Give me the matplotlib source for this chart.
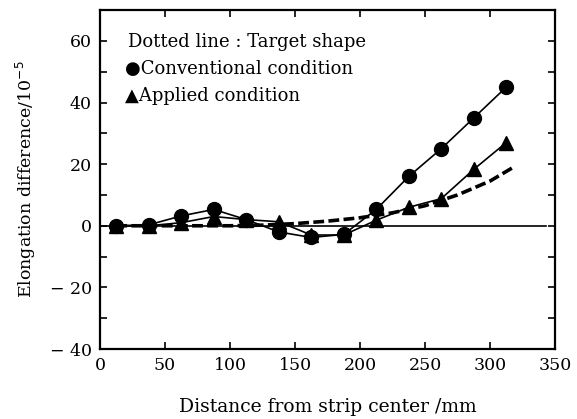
import matplotlib
matplotlib.use("Agg")
import matplotlib.pyplot as plt
from matplotlib.ticker import MultipleLocator, FixedLocator, FixedFormatter

# distance from strip center (mm)
pos = [12.5, 37.5, 62.5, 87.5, 112.5, 137.5, 162.5, 187.5, 212.5, 237.5, 262.5, 287.5, 312.5]
conventional = [0, 0.3, 3.2, 5.3, 2.0, -2.0, -3.8, -2.8, 5.3, 16, 25, 35, 45]
applied = [0, 0, 1.0, 3.0, 2.0, 1.3, -3.0, -3.0, 1.8, 6.0, 8.8, 18.3, 27]

# target shape curve
target_x = [12.5, 50, 100, 125, 150, 175, 200, 225, 250, 275, 300, 318]
target_y = [0, 0, 0, 0.2, 0.7, 1.5, 2.6, 4.2, 6.5, 10, 14.5, 19]

yticks = [-40, -20, 0, 20, 40, 60]
ytick_labels = ["\u2212 40", "\u2212 20", "0", "20", "40", "60"]

plt.rcParams["font.family"] = ["DejaVu Serif", "DejaVu Sans"]
fs = 12.5

fig = plt.figure(figsize=(5.77, 4.19), dpi=100)
ax = fig.add_axes([0.1733, 0.167, 0.7886, 0.809])

ax.axhline(0, xmin=0, xmax=0.98, color="black", lw=1.2, zorder=1)
ax.plot(target_x, target_y, color="black", lw=2.6, linestyle=(0, (3, 1.2)), zorder=2)
ax.plot(pos, applied, color="black", lw=1.2, marker="^", markersize=9.5, zorder=3)
ax.plot(pos, conventional, color="black", lw=1.2, marker="o", markersize=10, zorder=4)

ax.set_xlim(0, 350)
ax.set_ylim(-40, 70)
ax.xaxis.set_major_locator(MultipleLocator(50))
ax.yaxis.set_major_locator(FixedLocator(yticks))
ax.yaxis.set_major_formatter(FixedFormatter(ytick_labels))
ax.yaxis.set_minor_locator(MultipleLocator(10))
ax.tick_params(which="both", direction="in", top=True, right=True, labelsize=fs,
               width=1.2, pad=6)
ax.tick_params(which="major", length=5)
ax.tick_params(which="minor", length=5)
for s in ax.spines.values():
    s.set_linewidth(1.6)

ax.set_xlabel("Distance from strip center /mm", fontsize=13.5, labelpad=17)
ax.set_ylabel("Elongation difference/10$^{\u2212 5}$", fontsize=fs, labelpad=8)

ax.text(0.062, 0.905, "Dotted line : Target shape", transform=ax.transAxes,
        fontsize=13, va="center")
ax.text(0.055, 0.827, "\u25cfConventional condition", transform=ax.transAxes,
        fontsize=13, va="center")
ax.text(0.055, 0.747, "\u25b2Applied condition", transform=ax.transAxes,
        fontsize=13, va="center")

fig.savefig("out.png", dpi=100)
